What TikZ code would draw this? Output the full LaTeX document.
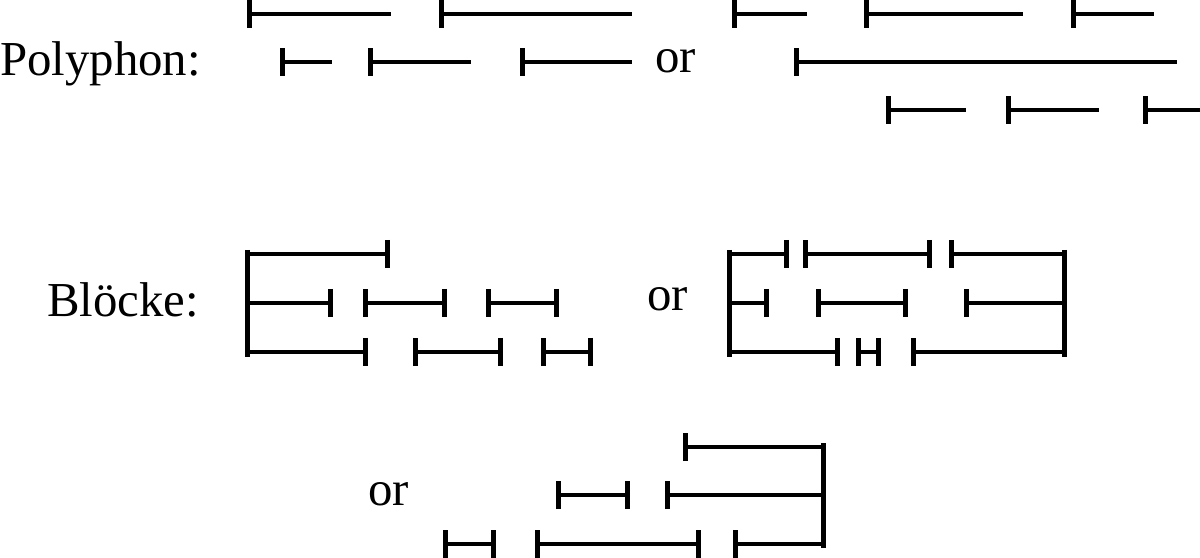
\documentclass[tikz,border=0pt]{standalone}
\usepackage{fontspec}
\setmainfont{Liberation Serif}
\usetikzlibrary{arrows.meta}
\tikzset{
  ln/.style={line width=4.3bp, line cap=butt},
  tk/.tip={Bar[width=28bp,line width=5bp]},
  lft/.style={ln, {tk}-},
  rgt/.style={ln, -{tk}},
  bth/.style={ln, {tk}-{tk}},
  vbar/.style={line width=5bp},
  lbl/.style={inner sep=0pt, anchor=base west, font=\fontsize{49}{50}\selectfont}
}
\begin{document}
\begin{tikzpicture}[x=1bp,y=-1bp]
\useasboundingbox (0,0) rectangle (1200,558);
% labels
\node[lbl] (poly) at (0,76) {Polyphon:};
\node[lbl] (or1) at (655,73) {or};
\node[lbl] (bl) at (47,317) {Blöcke:};
\node[lbl] (or2) at (647,311) {or};
\node[lbl] (or3) at (368,505) {or};
% Polyphon
\draw[lft] (247,14) -- (391,14);
\draw[lft] (439,14) -- (632,14);
\draw[lft] (732,14) -- (807,14);
\draw[lft] (864,14) -- (1023,14);
\draw[lft] (1071,14) -- (1154,14);
\draw[lft] (280,62) -- (332,62);
\draw[lft] (368,62) -- (471,62);
\draw[lft] (520,62) -- (632,62);
\draw[lft] (794,62) -- (1177,62);
\draw[lft] (886,110) -- (966,110);
\draw[lft] (1006,110) -- (1099,110);
\draw[lft] (1143,110) -- (1200,110);
% Bloecke left
\draw[vbar] (247,250) -- (247,357);
\draw[rgt] (247,254) -- (390,254);
\draw[rgt] (247,303) -- (333,303);
\draw[bth] (363,303) -- (447,303);
\draw[bth] (486,303) -- (559,303);
\draw[rgt] (247,352) -- (368,352);
\draw[bth] (413,352) -- (503,352);
\draw[bth] (541,352) -- (593,352);
% Bloecke right
\draw[vbar] (729,250) -- (729,357);
\draw[vbar] (1064,250) -- (1064,357);
\draw[rgt] (729,254) -- (789,254);
\draw[bth] (803,254) -- (932,254);
\draw[lft] (949,254) -- (1064,254);
\draw[rgt] (729,303) -- (769,303);
\draw[bth] (816,303) -- (908,303);
\draw[lft] (964,303) -- (1064,303);
\draw[rgt] (729,352) -- (840,352);
\draw[bth] (856,352) -- (881,352);
\draw[lft] (911,352) -- (1064,352);
% bottom
\draw[vbar] (823,443) -- (823,548);
\draw[lft] (683,447) -- (823,447);
\draw[bth] (556,495) -- (630,495);
\draw[lft] (665,495) -- (823,495);
\draw[bth] (443,544) -- (496,544);
\draw[bth] (535,544) -- (701,544);
\draw[lft] (733,544) -- (823,544);
\end{tikzpicture}
\end{document}
